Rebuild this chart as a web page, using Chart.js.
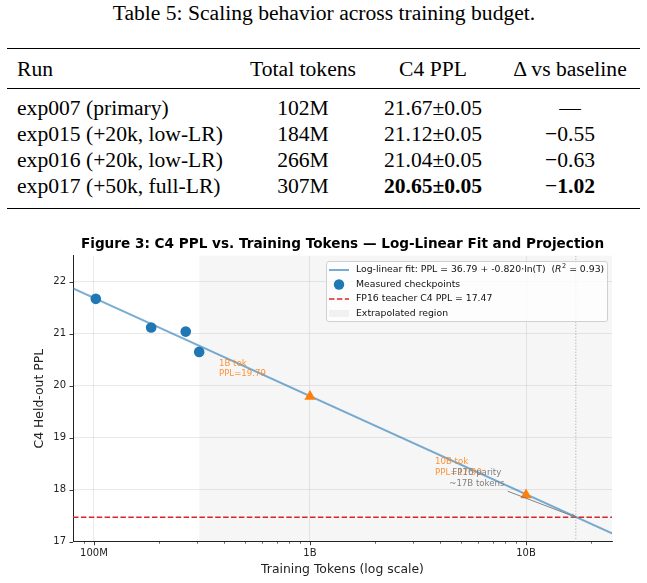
<!DOCTYPE html>
<html><head><meta charset="utf-8">
<script src="https://cdn.jsdelivr.net/npm/chart.js@4.4.1/dist/chart.umd.min.js"></script>
<style>
html,body{margin:0;padding:0;background:#fff;}
body{width:647px;height:583px;position:relative;overflow:hidden;font-family:"Liberation Serif","Times New Roman",serif;color:#000;}
.t{position:absolute;white-space:nowrap;font-size:21.6px;line-height:21px;}
.c{transform:translateX(-50%);}
.rule{position:absolute;left:7px;width:633px;background:#000;}
#chart{position:absolute;left:0;top:228px;}
</style></head>
<body>
<div id="table"></div>
<canvas id="chart" width="647" height="355"></canvas>
<script>
// ---------- table data ----------
const tableTitle = "Table 5: Scaling behavior across training budget.";
const tableHeaders = ["Run", "Total tokens", "C4 PPL", "\u0394 vs baseline"];
const runs = ["exp007 (primary)", "exp015 (+20k, low-LR)", "exp016 (+20k, low-LR)", "exp017 (+50k, full-LR)"];
const tokenLabels = ["102M", "184M", "266M", "307M"];
const totalTokens = [102e6, 184e6, 266e6, 307e6];
const c4PPL = [21.67, 21.12, 21.04, 20.65];
const pplErr = [0.05, 0.05, 0.05, 0.05];
const deltaVsBaseline = [null, -0.55, -0.63, -1.02];

// ---------- chart data ----------
const chartTitle = "Figure 3: C4 PPL vs. Training Tokens \u2014 Log-Linear Fit and Projection";
const fitIntercept = 36.79, fitSlope = -0.820, fitR2 = 0.93;
const fitTokens = [8.0e7, 2.5e10];
const fitPPL = [21.87, 17.16];
const projTokens = [1e9, 1e10];
const projNames = ["1B", "10B"];
const projPPL = [19.79, 17.90];
const teacherPPL = 17.47;
const parityTokens = 1.7e10;
const parityLabel = ["FP16 parity", "~17B tokens"];
const extrapStart = 307e6;
const xRange = [8e7, 2.5e10];
const yRange = [17, 22.5];
const xMajorTicks = [1e8, 1e9, 1e10];
const xTickLabels = ["100M", "1B", "10B"];
const xMinorTicks = [9e7, 2e8, 3e8, 4e8, 5e8, 6e8, 7e8, 8e8, 9e8, 2e9, 3e9, 4e9, 5e9, 6e9, 7e9, 8e9, 9e9, 2e10];
const yTicks = [17, 18, 19, 20, 21, 22];
const legendLabels = ["Log-linear fit: PPL = " + fitIntercept.toFixed(2) + " + " + fitSlope.toFixed(3) + "\u00b7ln(T)",
  "Measured checkpoints", "FP16 teacher C4 PPL = " + teacherPPL.toFixed(2), "Extrapolated region"];

// ---------- build table ----------
const tbl = document.getElementById('table');
function addText(html, x, y, center) {
  const d = document.createElement('div');
  d.className = 't' + (center ? ' c' : '');
  d.style.left = x + 'px'; d.style.top = y + 'px';
  d.innerHTML = html; tbl.appendChild(d);
}
function addRule(y, h) {
  const d = document.createElement('div'); d.className = 'rule';
  d.style.top = y + 'px'; d.style.height = h + 'px'; tbl.appendChild(d);
}
const colX = [17, 303, 433, 570];
addText(tableTitle, 324, 3, true);
addRule(48, 1.4); addRule(88, 0.9); addRule(207.5, 1.4);
tableHeaders.forEach((h, i) => addText(h, colX[i], 59, i > 0));
const best = c4PPL.indexOf(Math.min(...c4PPL));
const rowTop = [97.5, 123.5, 150, 176];
runs.forEach((r, i) => {
  addText(r, colX[0], rowTop[i], false);
  addText(tokenLabels[i], colX[1], rowTop[i], true);
  let p = c4PPL[i].toFixed(2) + "\u00b1" + pplErr[i].toFixed(2);
  if (i === best) p = "<b>" + p + "</b>";
  addText(p, colX[2], rowTop[i], true);
  const d = deltaVsBaseline[i];
  let ds = d === null ? "\u2014" : "\u2212" + (i === best ? "<b>" + Math.abs(d).toFixed(2) + "</b>" : Math.abs(d).toFixed(2));
  addText(ds, colX[3], rowTop[i], true);
});

// ---------- chart ----------
const FONT = "'DejaVu Sans', sans-serif";
const blue = '#1f77b4', orange = '#ff7f0e', red = '#d62728';
const fitColor = 'rgba(31,119,180,0.6)';
const spanColor = 'rgba(128,128,128,0.07)';
const gridColor = 'rgba(176,176,176,0.35)';

const spanPlugin = {
  id: 'span',
  beforeDraw(chart) {
    const {ctx, chartArea: a, scales: {x}} = chart;
    const x0 = x.getPixelForValue(extrapStart);
    ctx.save(); ctx.fillStyle = spanColor;
    ctx.fillRect(x0, a.top, a.right - x0, a.bottom - a.top);
    ctx.restore();
  }
};

function roundRectPath(ctx, x, y, w, h, r) {
  ctx.beginPath();
  ctx.moveTo(x + r, y); ctx.lineTo(x + w - r, y); ctx.arcTo(x + w, y, x + w, y + r, r);
  ctx.lineTo(x + w, y + h - r); ctx.arcTo(x + w, y + h, x + w - r, y + h, r);
  ctx.lineTo(x + r, y + h); ctx.arcTo(x, y + h, x, y + h - r, r);
  ctx.lineTo(x, y + r); ctx.arcTo(x, y, x + r, y, r); ctx.closePath();
}

const overlayPlugin = {
  id: 'overlay',
  afterDatasetsDraw(chart) {
    const {ctx, chartArea: a, scales: {x, y}} = chart;
    ctx.save();
    // title
    ctx.fillStyle = '#000'; ctx.font = 'bold 13.6px ' + FONT;
    ctx.textAlign = 'center'; ctx.textBaseline = 'middle';
    ctx.fillText(chartTitle, (a.left + a.right) / 2, 16);
    // projection labels
    ctx.font = '8.6px ' + FONT; ctx.textAlign = 'left';
    ctx.fillStyle = 'rgba(255,127,14,0.85)';
    projTokens.forEach((t, i) => {
      const px = x.getPixelForValue(t), py = y.getPixelForValue(projPPL[i]);
      ctx.fillText(projNames[i] + ' tok', px - 91, py - 33);
      ctx.fillText('PPL=' + projPPL[i].toFixed(2), px - 91, py - 22.5);
    });
    // parity annotation
    const tx = x.getPixelForValue(parityTokens), ty = y.getPixelForValue(teacherPPL);
    const lx = tx - 99, ly = ty - 44;
    ctx.fillStyle = '#808080'; ctx.textAlign = 'center';
    ctx.fillText(parityLabel[0], lx, ly);
    ctx.fillText(parityLabel[1], lx, ly + 10.5);
    ctx.strokeStyle = '#777'; ctx.lineWidth = 0.9;
    const sx = lx + 31, sy = ly + 18;
    ctx.beginPath(); ctx.moveTo(sx, sy); ctx.lineTo(tx, ty); ctx.stroke();
    const ang = Math.atan2(ty - sy, tx - sx);
    ctx.beginPath();
    ctx.moveTo(tx - 5 * Math.cos(ang - 0.4), ty - 5 * Math.sin(ang - 0.4));
    ctx.lineTo(tx, ty);
    ctx.lineTo(tx - 5 * Math.cos(ang + 0.4), ty - 5 * Math.sin(ang + 0.4));
    ctx.stroke();
    // legend
    const bx = 326, by = 33, bw = 281, bh = 60;
    roundRectPath(ctx, bx + 0.5, by + 0.5, bw, bh, 2.5);
    ctx.fillStyle = 'rgba(255,255,255,0.8)'; ctx.fill();
    ctx.strokeStyle = '#d0d0d0'; ctx.lineWidth = 1; ctx.stroke();
    const rows = [42, 56.5, 71, 85.5];
    const hx0 = 329, hx1 = 349, tx0 = 356;
    ctx.lineWidth = 2; ctx.strokeStyle = fitColor;
    ctx.beginPath(); ctx.moveTo(hx0, rows[0]); ctx.lineTo(hx1, rows[0]); ctx.stroke();
    ctx.fillStyle = blue; ctx.beginPath(); ctx.arc((hx0 + hx1) / 2, rows[1], 5.2, 0, Math.PI * 2); ctx.fill();
    ctx.strokeStyle = red; ctx.lineWidth = 1.5; ctx.setLineDash([5.5, 2.4]);
    ctx.beginPath(); ctx.moveTo(hx0, rows[2]); ctx.lineTo(hx1, rows[2]); ctx.stroke();
    ctx.setLineDash([]);
    ctx.fillStyle = 'rgba(128,128,128,0.1)'; ctx.fillRect(hx0, rows[3] - 3.5, hx1 - hx0, 7);
    ctx.fillStyle = '#111'; ctx.textAlign = 'left'; ctx.textBaseline = 'middle';
    const lf = '9.3px ' + FONT;
    ctx.font = lf;
    legendLabels.forEach((t, i) => ctx.fillText(t, tx0, rows[i]));
    // R^2 part
    let cx = tx0 + ctx.measureText(legendLabels[0] + '  (').width;
    ctx.fillText('  (', tx0 + ctx.measureText(legendLabels[0]).width, rows[0]);
    ctx.font = 'italic 9.3px ' + FONT; ctx.fillText('R', cx, rows[0]);
    cx += ctx.measureText('R').width + 0.5;
    ctx.font = '6.5px ' + FONT; ctx.fillText('2', cx, rows[0] - 3.5);
    cx += ctx.measureText('2').width;
    ctx.font = lf; ctx.fillText(' = ' + fitR2.toFixed(2) + ')', cx, rows[0]);
    ctx.restore();
  },
  afterDraw(chart) {
    const {ctx, chartArea: a, scales: {x, y}} = chart;
    ctx.save(); ctx.strokeStyle = '#222';
    xMajorTicks.concat(xMinorTicks).forEach(v => {
      const major = xMajorTicks.includes(v);
      const px = Math.round(x.getPixelForValue(v)) + 0.5;
      ctx.lineWidth = major ? 0.9 : 0.7;
      ctx.beginPath(); ctx.moveTo(px, a.bottom); ctx.lineTo(px, a.bottom + (major ? 3.5 : 2)); ctx.stroke();
    });
    ctx.lineWidth = 0.9;
    yTicks.forEach(v => {
      const py = Math.round(y.getPixelForValue(v)) + 0.5;
      ctx.beginPath(); ctx.moveTo(a.left - 3.5, py); ctx.lineTo(a.left, py); ctx.stroke();
    });
    ctx.restore();
  }
};

new Chart(document.getElementById('chart'), {
  type: 'scatter',
  data: {
    datasets: [
      { label: 'parity', data: [{x: parityTokens, y: yRange[0]}, {x: parityTokens, y: yRange[1]}], showLine: true,
        borderColor: '#888', borderWidth: 0.8, borderDash: [1, 2], pointRadius: 0, order: 5 },
      { label: 'fit', data: fitTokens.map((t, i) => ({x: t, y: fitPPL[i]})), showLine: true,
        borderColor: fitColor, borderWidth: 2, pointRadius: 0, order: 4 },
      { label: 'teacher', data: [{x: xRange[0], y: teacherPPL}, {x: xRange[1], y: teacherPPL}], showLine: true,
        borderColor: red, borderWidth: 1.5, borderDash: [5.5, 2.4], pointRadius: 0, order: 3 },
      { label: 'measured', data: totalTokens.map((t, i) => ({x: t, y: c4PPL[i]})),
        backgroundColor: blue, borderColor: blue, borderWidth: 0, pointRadius: 5.3, order: 2 },
      { label: 'projected', data: projTokens.map((t, i) => ({x: t, y: projPPL[i]})),
        backgroundColor: orange, borderColor: orange, borderWidth: 0, pointRadius: 6.5, pointStyle: 'triangle', order: 1 }
    ]
  },
  options: {
    responsive: false, animation: false, devicePixelRatio: 1,
    layout: {padding: {top: 27.7, right: 35, left: 0, bottom: 0}},
    plugins: {legend: {display: false}, title: {display: false}, tooltip: {enabled: false}},
    scales: {
      x: {
        type: 'logarithmic', min: xRange[0], max: xRange[1],
        afterBuildTicks: s => { s.ticks = xMajorTicks.concat(xMinorTicks).sort((a, b) => a - b).map(v => ({value: v})); },
        afterFit: s => { s.height = 41.3; },
        ticks: {autoSkip: false, maxRotation: 0, minRotation: 0, padding: 6, color: '#222',
          font: {family: FONT, size: 10},
          callback: v => { const i = xMajorTicks.indexOf(v); return i >= 0 ? xTickLabels[i] : ''; }},
        grid: {drawTicks: false, lineWidth: 0.8,
          color: c => (c.tick && xMajorTicks.includes(c.tick.value)) ? gridColor : 'rgba(0,0,0,0)'},
        border: {display: true, color: '#222', width: 1},
        title: {display: true, text: 'Training Tokens (log scale)', color: '#222',
          font: {family: FONT, size: 12.4}, padding: {top: 0, bottom: 5.5}}
      },
      y: {
        min: yRange[0], max: yRange[1],
        afterBuildTicks: s => { s.ticks = yTicks.map(v => ({value: v})); },
        afterFit: s => { s.width = 73; },
        ticks: {padding: 7, color: '#222', font: {family: FONT, size: 10}},
        grid: {drawTicks: false, lineWidth: 0.8, color: gridColor},
        border: {display: true, color: '#222', width: 1},
        title: {display: true, text: 'C4 Held-out PPL', color: '#222',
          font: {family: FONT, size: 12.4}, padding: {top: 32.5, bottom: 0}}
      }
    }
  },
  plugins: [spanPlugin, overlayPlugin]
});
</script>
</body></html>
